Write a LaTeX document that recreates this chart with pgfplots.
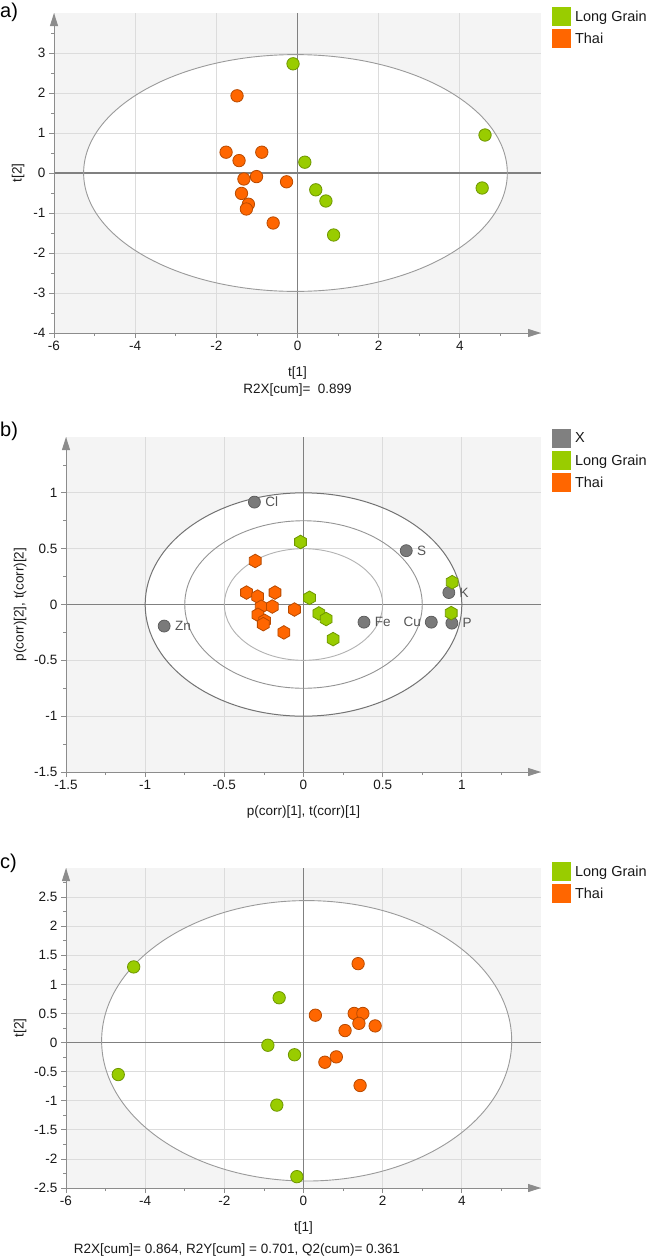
\documentclass[border=0pt]{standalone}
\usepackage{fontspec}
\setmainfont{Liberation Sans}
\usepackage{pgfplots}
\pgfplotsset{compat=1.18}
\usetikzlibrary{arrows.meta}

\definecolor{lgfill}{HTML}{99CC00}
\definecolor{lgdraw}{HTML}{6E9600}
\definecolor{thfill}{HTML}{FF6600}
\definecolor{thdraw}{HTML}{B84A00}
\definecolor{xfill}{HTML}{7A7A7A}
\definecolor{xdraw}{HTML}{5A5A5A}
\definecolor{xleg}{HTML}{808080}
\definecolor{bggrey}{HTML}{F4F4F4}
\definecolor{gridgrey}{HTML}{DCDCDC}
\definecolor{zerogrey}{HTML}{808080}
\definecolor{axisgrey}{HTML}{8C8C8C}
\definecolor{ellgrey}{HTML}{9A9A9A}
\definecolor{labgrey}{HTML}{555555}

\pgfdeclareplotmark{hexagon}{%
  \pgfpathmoveto{\pgfqpointpolar{90}{\pgfplotmarksize}}%
  \pgfpathlineto{\pgfqpointpolar{150}{\pgfplotmarksize}}%
  \pgfpathlineto{\pgfqpointpolar{210}{\pgfplotmarksize}}%
  \pgfpathlineto{\pgfqpointpolar{270}{\pgfplotmarksize}}%
  \pgfpathlineto{\pgfqpointpolar{330}{\pgfplotmarksize}}%
  \pgfpathlineto{\pgfqpointpolar{30}{\pgfplotmarksize}}%
  \pgfpathclose
  \pgfusepathqfillstroke
}

\pgfplotsset{
  simca/.style={
    scale only axis,
    set layers,
    clip=false,
    anchor=south west,
    axis lines=left,
    axis line style={draw=axisgrey, line width=1pt, -{Triangle[length=13pt,width=8pt]}},
    tick align=outside,
    major tick length=5pt,
    minor tick length=3pt,
    every tick/.style={draw=axisgrey, line width=0.8pt},
    grid=major,
    major grid style={draw=gridgrey, line width=0.8pt},
    /pgf/number format/assume math mode=true,
    tick label style={font=\fontsize{13.5}{16}\selectfont, text=black!90},
    label style={font=\fontsize{13.5}{16}\selectfont, text=black!90, anchor=center},
    legend style={anchor=north west, draw=none, fill=none, inner sep=0pt, outer sep=0pt,
      font=\fontsize{14.5}{17}\selectfont, row sep=3pt,
      nodes={inner sep=0pt, font=\fontsize{14.5}{17}\selectfont, text=black!90},
      /tikz/every odd column/.append style={column sep=4pt}},
    legend cell align=left,
    legend image code/.code={\fill[##1, draw=none] (0pt,-9.5pt) rectangle (19pt,9.5pt);},
  },
  circLG/.style={only marks, mark=*, mark size=6.2pt, mark options={fill=lgfill, draw=lgdraw, line width=0.8pt}, forget plot},
  circTH/.style={only marks, mark=*, mark size=6.2pt, mark options={fill=thfill, draw=thdraw, line width=0.8pt}, forget plot},
  hexLG/.style={only marks, mark=hexagon, mark size=6.8pt, mark options={fill=lgfill, draw=lgdraw, line width=0.8pt}, forget plot},
  hexTH/.style={only marks, mark=hexagon, mark size=6.8pt, mark options={fill=thfill, draw=thdraw, line width=0.8pt}, forget plot},
}

\begin{document}
\begin{tikzpicture}

% ---------------- panel a ----------------
\node[anchor=west, font=\fontsize{20}{22}\selectfont, inner sep=0pt] at (0pt,-12pt) {a)};
\begin{axis}[simca, at={(54pt,-333pt)}, width=487pt, height=320pt,
  xmin=-6, xmax=6, ymin=-4, ymax=4,
  xtick={-6,-4,...,4}, ytick={-4,-3,...,3},
  minor xtick={-5,-3,...,5}, minor ytick={-3.5,-2.5,...,3.5},
  xlabel={t[1]}, ylabel={t[2]},
  xlabel style={at={(axis description cs:0.5,-0.125)}},
  ylabel style={at={(axis description cs:-0.0739,0.5)}},
  legend style={at={(axis description cs:1.0226,1.01875)}}]
\begin{pgfonlayer}{axis background}
  \fill[bggrey] (rel axis cs:0,0) rectangle (rel axis cs:1,1);
  \fill[white] (axis cs:-0.05,0) ellipse [x radius=5.22, y radius=2.96];
\end{pgfonlayer}
\begin{pgfonlayer}{axis ticks}
  \draw[zerogrey, line width=1.1pt] (axis cs:0,-4) -- (axis cs:0,4);
  \draw[zerogrey, line width=1.1pt] (axis cs:-6,0) -- (axis cs:6,0);
\end{pgfonlayer}
\draw[ellgrey, line width=0.9pt] (axis cs:-0.05,0) ellipse [x radius=5.22, y radius=2.96];
\addlegendimage{fill=lgfill}\addlegendentry{Long Grain}
\addlegendimage{fill=thfill}\addlegendentry{Thai}
\addplot[circTH] coordinates {(-1.49,1.93) (-1.76,0.52) (-0.88,0.52) (-1.44,0.31) (-1.32,-0.15) (-1.01,-0.09) (-0.27,-0.22) (-1.38,-0.51) (-1.21,-0.78) (-1.26,-0.90) (-0.60,-1.25)};
\addplot[circLG] coordinates {(-0.11,2.73) (0.18,0.27) (0.45,-0.42) (0.70,-0.70) (0.89,-1.55) (4.62,0.95) (4.55,-0.375)};
\node[font=\fontsize{13.5}{16}\selectfont, text=black!90] at (axis description cs:0.5,-0.178) {R2X[cum]=\ \ 0.899};
\end{axis}

% ---------------- panel b ----------------
\node[anchor=west, font=\fontsize{20}{22}\selectfont, inner sep=0pt] at (0pt,-431pt) {b)};
\begin{axis}[simca, at={(66pt,-772pt)}, width=475pt, height=335pt,
  xmin=-1.5, xmax=1.5, ymin=-1.5, ymax=1.5,
  xtick={-1.5,-1,...,1}, ytick={-1.5,-1,...,1},
  minor xtick={-1.25,-0.75,...,1.25}, minor ytick={-1.25,-0.75,...,1.25},
  xlabel={p(corr)[1], t(corr)[1]}, ylabel={p(corr)[2], t(corr)[2]},
  xlabel style={at={(axis description cs:0.5,-0.1194)}},
  ylabel style={at={(axis description cs:-0.0968,0.5)}},
  legend style={at={(axis description cs:1.0232,1.0239)}}]
\begin{pgfonlayer}{axis background}
  \fill[bggrey] (rel axis cs:0,0) rectangle (rel axis cs:1,1);
  \fill[white] (axis cs:0,0) ellipse [x radius=1, y radius=1];
\end{pgfonlayer}
\begin{pgfonlayer}{axis ticks}
  \draw[zerogrey, line width=1.1pt] (axis cs:0,-1.5) -- (axis cs:0,1.5);
  \draw[zerogrey, line width=1.1pt] (axis cs:-1.5,0) -- (axis cs:1.5,0);
\end{pgfonlayer}
\draw[black!55, line width=1pt] (axis cs:0,0) ellipse [x radius=1, y radius=1];
\draw[black!42, line width=0.9pt] (axis cs:0,0) ellipse [x radius=0.75, y radius=0.75];
\draw[black!30, line width=0.9pt] (axis cs:0,0) ellipse [x radius=0.5, y radius=0.5];
\addlegendimage{fill=xleg}\addlegendentry{X}
\addlegendimage{fill=lgfill}\addlegendentry{Long Grain}
\addlegendimage{fill=thfill}\addlegendentry{Thai}
\addplot[only marks, mark=*, mark size=6pt, mark options={fill=xfill, draw=xdraw, line width=0.7pt}, forget plot,
  nodes near coords, point meta=explicit symbolic,
  every node near coord/.style={anchor=west, inner sep=0pt, xshift=10.5pt, font=\fontsize{13.5}{16}\selectfont, text=labgrey}]
  table[meta=lab] {
  x y lab
  -0.31 0.917 Cl
  -0.88 -0.193 Zn
  0.649 0.482 S
  0.918 0.107 K
  0.382 -0.158 Fe
  0.937 -0.167 P
  };
\addplot[only marks, mark=*, mark size=6pt, mark options={fill=xfill, draw=xdraw, line width=0.7pt}, forget plot,
  nodes near coords, point meta=explicit symbolic,
  every node near coord/.style={anchor=east, inner sep=0pt, xshift=-10pt, font=\fontsize{13.5}{16}\selectfont, text=labgrey}]
  table[meta=lab] {
  x y lab
  0.807 -0.158 Cu
  };
\addplot[hexLG] coordinates {(-0.019,0.56) (0.038,0.06) (0.097,-0.08) (0.143,-0.13) (0.187,-0.31) (0.939,0.2) (0.933,-0.077)};
\addplot[hexTH] coordinates {(-0.305,0.39) (-0.36,0.107) (-0.29,0.071) (-0.18,0.107) (-0.267,-0.02) (-0.197,-0.018) (-0.288,-0.092) (-0.057,-0.045) (-0.246,-0.146) (-0.254,-0.176) (-0.124,-0.25)};
\end{axis}

% ---------------- panel c ----------------
\node[anchor=west, font=\fontsize{20}{22}\selectfont, inner sep=0pt] at (0pt,-863pt) {c)};
\begin{axis}[simca, at={(66pt,-1188pt)}, width=475pt, height=320pt,
  xmin=-6, xmax=6, ymin=-2.5, ymax=3,
  xtick={-6,-4,...,4}, ytick={-2.5,-2,...,2.5},
  minor xtick={-5,-3,...,5}, minor ytick={-2.25,-1.75,...,2.75},
  xlabel={t[1]}, ylabel={t[2]},
  xlabel style={at={(axis description cs:0.5,-0.125)}},
  ylabel style={at={(axis description cs:-0.0968,0.5)}},
  legend style={at={(axis description cs:1.0232,1.01875)}}]
\begin{pgfonlayer}{axis background}
  \fill[bggrey] (rel axis cs:0,0) rectangle (rel axis cs:1,1);
  \fill[white] (axis cs:0.08,0.03) ellipse [x radius=5.18, y radius=2.41];
\end{pgfonlayer}
\begin{pgfonlayer}{axis ticks}
  \draw[zerogrey, line width=1.1pt] (axis cs:0,-2.5) -- (axis cs:0,3);
  \draw[zerogrey, line width=1.1pt] (axis cs:-6,0) -- (axis cs:6,0);
\end{pgfonlayer}
\draw[ellgrey, line width=0.9pt] (axis cs:0.08,0.03) ellipse [x radius=5.18, y radius=2.41];
\addlegendimage{fill=lgfill}\addlegendentry{Long Grain}
\addlegendimage{fill=thfill}\addlegendentry{Thai}
\addplot[circLG] coordinates {(-4.29,1.30) (-4.68,-0.55) (-0.615,0.77) (-0.90,-0.046) (-0.227,-0.21) (-0.674,-1.075) (-0.168,-2.305)};
\addplot[circTH] coordinates {(0.30,0.47) (1.38,1.356) (1.28,0.50) (1.50,0.50) (1.40,0.33) (1.05,0.206) (1.81,0.286) (0.83,-0.246) (0.54,-0.338) (1.43,-0.738)};
\node[font=\fontsize{13.5}{16}\selectfont, text=black!90] at (axis description cs:0.36,-0.194) {R2X[cum]= 0.864, R2Y[cum] = 0.701, Q2(cum)= 0.361};
\end{axis}

\pgfresetboundingbox
\path[use as bounding box] (0pt,0pt) rectangle (647pt,-1258pt);
\end{tikzpicture}
\end{document}
